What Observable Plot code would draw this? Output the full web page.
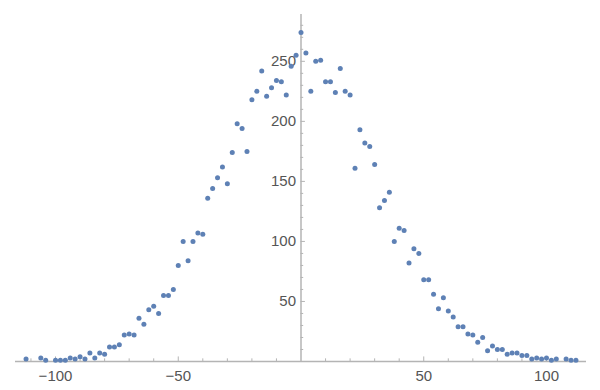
<!DOCTYPE html>
<html>
<head>
<meta charset="utf-8">
<script src="https://cdn.jsdelivr.net/npm/d3@7"></script>
<script src="https://cdn.jsdelivr.net/npm/@observablehq/plot@0.6"></script>
<style>
  html, body { margin: 0; padding: 0; background: #fff; }
</style>
</head>
<body>
<div id="chart"></div>
<script>
// Data: x positions (even integers) and counts
const xs = [
  -112, -106, -104, -100, -98, -96, -94, -92, -90, -88, -86, -84, -82, -80,
  -78, -76, -74, -72, -70, -68, -66, -64, -62, -60, -58, -56, -54, -52, -50,
  -48, -46, -44, -42, -40, -38, -36, -34, -32, -30, -28, -26, -24, -22, -20,
  -18, -16, -14, -12, -10, -8, -6, -4, -2, 0, 2, 4, 6, 8, 10, 12, 14, 16, 18,
  20, 22, 24, 26, 28, 30, 32, 34, 36, 38, 40, 42, 44, 46, 48, 50, 52, 54, 56,
  58, 60, 62, 64, 66, 68, 70, 72, 74, 76, 78, 80, 82, 84, 86, 88, 90, 92, 94,
  96, 98, 100, 102, 104, 108, 110, 112
];
const counts = [
  2, 3, 1, 1, 1, 1, 3, 2, 4, 2, 7, 3, 7, 6,
  12, 12, 14, 22, 23, 22, 36, 31, 43, 46, 40, 55, 55, 60, 80,
  100, 84, 100, 107, 106, 136, 144, 153, 162, 148, 174, 198, 194, 175, 218,
  225, 242, 221, 228, 234, 233, 222, 246, 255, 274, 257, 225, 250, 251, 233, 233, 224, 244, 225,
  222, 161, 193, 182, 179, 164, 128, 134, 141, 100, 111, 109, 82, 94, 90, 68, 68, 56, 44,
  53, 42, 37, 29, 29, 23, 22, 16, 20, 9, 13, 10, 10, 6, 7, 7, 5, 5, 2,
  3, 2, 3, 1, 2, 2, 1, 1
];
const xTickLabels = [-100, -50, 50, 100];
const yTickLabels = [50, 100, 150, 200, 250];
const xMinorTicks = d3.range(-110, 111, 10).filter(d => d !== 0 && !xTickLabels.includes(d));
const yMinorTicks = d3.range(10, 281, 10).filter(d => !yTickLabels.includes(d));

const points = xs.map((x, i) => ({x, y: counts[i]}));

const axisColor = "#b4b4b4";
const labelColor = "#555555";
// tick lengths expressed in data units (x: ~2.455 px/unit, y: ~1.2 px/unit)
const yMajorLen = 1.8, yMinorLen = 1.1;
const xMajorLen = 3.8, xMinorLen = 2.2;

const fmt = d => d < 0 ? "\u2212" + Math.abs(d) : String(d);

const chart = Plot.plot({
  width: 600,
  height: 390,
  marginLeft: 15,
  marginRight: 14,
  marginTop: 14,
  marginBottom: 29,
  x: {domain: [-116.3, 116.3]},
  y: {domain: [0, 289]},
  axis: null,
  style: {fontFamily: "'Liberation Sans', Arial, sans-serif", fontSize: "15px", background: "#fff"},
  marks: [
    // axes lines
    Plot.ruleY([0], {stroke: axisColor, strokeWidth: 1.5}),
    Plot.ruleX([0], {stroke: axisColor, strokeWidth: 1.5}),
    // y ticks (on right side of y axis)
    Plot.ruleY(yTickLabels, {y: d => d, x1: 0, x2: yMajorLen, stroke: axisColor, strokeWidth: 1}),
    Plot.ruleY(yMinorTicks, {y: d => d, x1: 0, x2: yMinorLen, stroke: axisColor, strokeWidth: 1}),
    // x ticks (pointing upward)
    Plot.ruleX(xTickLabels, {x: d => d, y1: 0, y2: xMajorLen, stroke: axisColor, strokeWidth: 1}),
    Plot.ruleX(xMinorTicks, {x: d => d, y1: 0, y2: xMinorLen, stroke: axisColor, strokeWidth: 1}),
    // labels
    Plot.text(yTickLabels, {x: 0, y: d => d, text: fmt, dx: -5, textAnchor: "end", fill: labelColor}),
    Plot.text(xTickLabels, {x: d => d, y: 0, text: fmt, dy: 15, fill: labelColor}),
    // data
    Plot.dot(points, {x: "x", y: "y", r: 2.5, fill: "#5e81b5", stroke: "none"})
  ]
});
document.getElementById("chart").appendChild(chart);
</script>
</body>
</html>
